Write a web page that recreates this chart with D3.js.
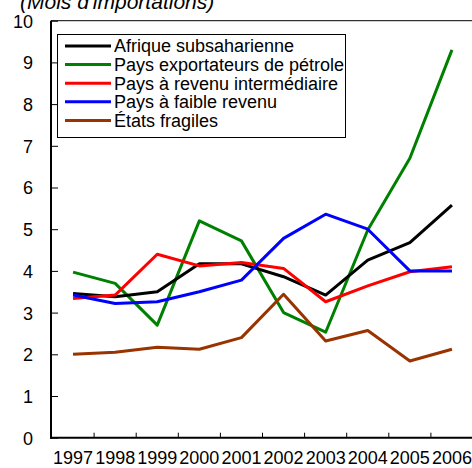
<!DOCTYPE html>
<html>
<head>
<meta charset="utf-8">
<script src="https://cdn.jsdelivr.net/npm/d3@7"></script>
<style>
html, body { margin: 0; padding: 0; background: #fff; }
svg { display: block; font-family: "Liberation Sans", Arial, sans-serif; }
</style>
</head>
<body>
<svg id="chart" width="472" height="468"></svg>
<script>
const years = ["1997","1998","1999","2000","2001","2002","2003","2004","2005","2006"];
const yTicks = [0,1,2,3,4,5,6,7,8,9,10];
const seriesNames = ["Afrique subsaharienne","Pays exportateurs de pétrole","Pays à revenu intermédiaire","Pays à faible revenu","États fragiles"];
const seriesColors = ["#000000","#008000","#ff0000","#0000ff","#993300"];
const afrique   = [3.46,3.38,3.50,4.17,4.17,3.86,3.42,4.26,4.68,5.58];
const petrole   = [3.97,3.70,2.70,5.20,4.72,3.00,2.53,4.98,6.70,9.30];
const interm    = [3.34,3.42,4.40,4.12,4.20,4.06,3.26,3.64,3.98,4.10];
const faible    = [3.42,3.22,3.26,3.50,3.78,4.78,5.36,5.00,4.00,4.00];
const fragiles  = [2.00,2.05,2.17,2.12,2.40,3.44,2.32,2.57,1.84,2.12];
const seriesValues = [afrique, petrole, interm, faible, fragiles];
const drawOrder = [1, 0, 2, 3, 4];
const title = "(Mois d'importations)";

const svg = d3.select("#chart");
const x = d3.scaleBand().domain(years).range([52, 473]).padding(0);
const y = d3.scaleLinear().domain([0, 10]).range([437.7, 20.7]);

// title
svg.append("text")
  .attr("x", 20).attr("y", 9)
  .attr("font-size", 21).attr("font-style", "italic")
  .attr("fill", "#000")
  .text(title);

// top frame line
svg.append("line")
  .attr("x1", 51).attr("x2", 473)
  .attr("y1", y(10)).attr("y2", y(10))
  .attr("stroke", "#000").attr("stroke-width", 1);

// y axis
const yAxis = d3.axisLeft(y).tickValues(yTicks).tickFormat(d3.format("d"))
  .tickSizeInner(-7).tickSizeOuter(0).tickPadding(18);
const gy = svg.append("g").attr("transform", "translate(51,0)").call(yAxis);
gy.select(".domain").attr("stroke-width", 2).attr("d", `M0,${y(10)}V${y(0)+1}`);
gy.selectAll(".tick line").attr("stroke-width", 1);
gy.selectAll(".tick text").attr("font-size", 18).attr("font-family", "Liberation Sans, Arial, sans-serif").attr("fill", "#000").attr("dy", "0.36em");

// x axis line
svg.append("line")
  .attr("x1", 50).attr("x2", 473)
  .attr("y1", y(0)).attr("y2", y(0))
  .attr("stroke", "#000").attr("stroke-width", 2);
// x ticks at category boundaries
svg.append("g").selectAll("line")
  .data(years.slice(0, -1))
  .join("line")
  .attr("x1", d => x(d) + x.bandwidth()).attr("x2", d => x(d) + x.bandwidth())
  .attr("y1", y(0)).attr("y2", y(0) - 5)
  .attr("stroke", "#000").attr("stroke-width", 1);
// x labels
svg.append("g").selectAll("text")
  .data(years)
  .join("text")
  .attr("x", d => x(d) + x.bandwidth() / 2)
  .attr("y", 463.5)
  .attr("text-anchor", "middle")
  .attr("font-size", 18)
  .attr("fill", "#000")
  .text(d => d);

// lines
const line = d3.line()
  .x((d, i) => x(years[i]) + x.bandwidth() / 2)
  .y(d => y(d));
svg.append("g").selectAll("path")
  .data(drawOrder)
  .join("path")
  .attr("d", k => line(seriesValues[k]))
  .attr("fill", "none")
  .attr("stroke", k => seriesColors[k])
  .attr("stroke-width", 3)
  .attr("stroke-linejoin", "round");

// legend
const lg = svg.append("g");
lg.append("rect")
  .attr("x", 57.5).attr("y", 34.5).attr("width", 288).attr("height", 103)
  .attr("fill", "#fff").attr("stroke", "#000").attr("stroke-width", 1);
const rowY = i => 46 + i * 18.6;
lg.selectAll("line.item")
  .data(seriesNames)
  .join("line")
  .attr("class", "item")
  .attr("x1", 65).attr("x2", 111)
  .attr("y1", (d, i) => rowY(i)).attr("y2", (d, i) => rowY(i))
  .attr("stroke", (d, i) => seriesColors[i])
  .attr("stroke-width", 3);
lg.selectAll("text.item")
  .data(seriesNames)
  .join("text")
  .attr("class", "item")
  .attr("x", 114)
  .attr("y", (d, i) => rowY(i))
  .attr("dy", "0.36em")
  .attr("font-size", 18)
  .attr("fill", "#000")
  .text(d => d);
</script>
</body>
</html>
